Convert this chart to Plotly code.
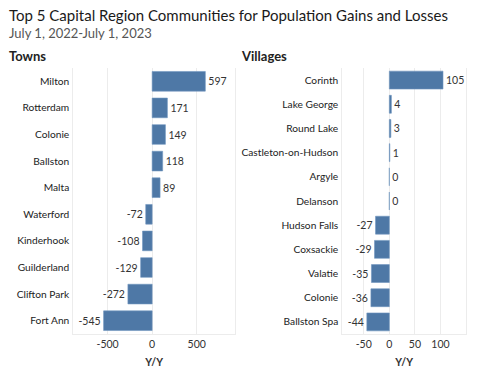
import plotly.graph_objects as go

towns = ["Milton", "Rotterdam", "Colonie", "Ballston", "Malta", "Waterford",
         "Kinderhook", "Guilderland", "Clifton Park", "Fort Ann"]
towns_yy = [597, 171, 149, 118, 89, -72, -108, -129, -272, -545]

villages = ["Corinth", "Lake George", "Round Lake", "Castleton-on-Hudson", "Argyle",
            "Delanson", "Hudson Falls", "Coxsackie", "Valatie", "Colonie", "Ballston Spa"]
villages_yy = [105, 4, 3, 1, 0, 0, -27, -29, -35, -36, -44]

towns_ticks = [-500, 0, 500]
villages_ticks = [-50, 0, 50, 100]

title = "Top 5 Capital Region Communities for Population Gains and Losses"
subtitle = "July 1, 2022-July 1, 2023"

W, H = 483, 381
FONT = "Lato"
BAR = "#4e78a6"
GRID = "#ececec"
TXT = "#333333"
LBL = 10.2

def px_x(v):
    return v / W

def px_y(v):
    return 1 - v / H

fig = go.Figure()
for xs, ys, xa, ya in [(towns_yy, towns, "x", "y"), (villages_yy, villages, "x2", "y2")]:
    fig.add_trace(go.Bar(
        x=xs, y=ys, orientation="h", xaxis=xa, yaxis=ya,
        marker=dict(color=BAR, line=dict(color="#7096c0", width=0.6)),
        width=0.74, text=[str(v) for v in xs], texttemplate="%{text}",
        textposition="outside",
        textfont=dict(size=LBL + 0.3, color=TXT, family=FONT), cliponaxis=False,
        hoverinfo="skip"))

ydom = [px_y(334), px_y(68)]
axis_common = dict(showgrid=True, gridcolor=GRID, gridwidth=1, zeroline=True,
                   zerolinecolor=GRID, zerolinewidth=1, showline=True, linecolor=GRID,
                   linewidth=1, ticks="", tickfont=dict(size=LBL + 0.3, color=TXT, family=FONT),
                   fixedrange=True, automargin=False)
yaxis_common = dict(autorange="reversed", showgrid=False,
                    showline=True, mirror=True, linecolor=GRID, ticks="",
                    ticklabelstandoff=1, tickfont=dict(size=LBL, color="#222222", family=FONT),
                    fixedrange=True, automargin=False)
fig.update_layout(
    width=W, height=H, margin=dict(l=0, r=0, t=0, b=0),
    paper_bgcolor="white", plot_bgcolor="white", showlegend=False,
    font=dict(family=FONT, color=TXT),
    xaxis=dict(domain=[px_x(73.3), px_x(235)], range=[-885, 930],
               tickvals=towns_ticks, ticktext=[str(v) for v in towns_ticks], anchor="y",
               title=dict(text="<b>Y/Y</b>", font=dict(size=10.5, color=TXT, family=FONT), standoff=10),
               **axis_common),
    yaxis=dict(domain=ydom, anchor="x", **yaxis_common),
    xaxis2=dict(domain=[px_x(342.3), px_x(466)], range=[-92, 150],
                tickvals=villages_ticks, ticktext=[str(v) for v in villages_ticks], anchor="y2",
                title=dict(text="<b>Y/Y</b>", font=dict(size=10.5, color=TXT, family=FONT), standoff=10),
                **axis_common),
    yaxis2=dict(domain=ydom, anchor="x2", **yaxis_common),
    annotations=[
        dict(text=title, x=px_x(7), y=px_y(15), xref="paper", yref="paper",
             xanchor="left", yanchor="middle", showarrow=False,
             font=dict(size=15, color="#1a1a1a", family=FONT)),
        dict(text=subtitle, x=px_x(7), y=px_y(33), xref="paper", yref="paper",
             xanchor="left", yanchor="middle", showarrow=False,
             font=dict(size=13, color="#555555", family=FONT)),
        dict(text="<b>Towns</b>", x=px_x(7), y=px_y(56), xref="paper", yref="paper",
             xanchor="left", yanchor="middle", showarrow=False,
             font=dict(size=13, color="#222222", family=FONT)),
        dict(text="<b>Villages</b>", x=px_x(239), y=px_y(56), xref="paper", yref="paper",
             xanchor="left", yanchor="middle", showarrow=False,
             font=dict(size=13, color="#222222", family=FONT)),
    ],
)

fig.write_html("out.html", config={"displayModeBar": False},
               post_script="document.body.style.margin='0';")
